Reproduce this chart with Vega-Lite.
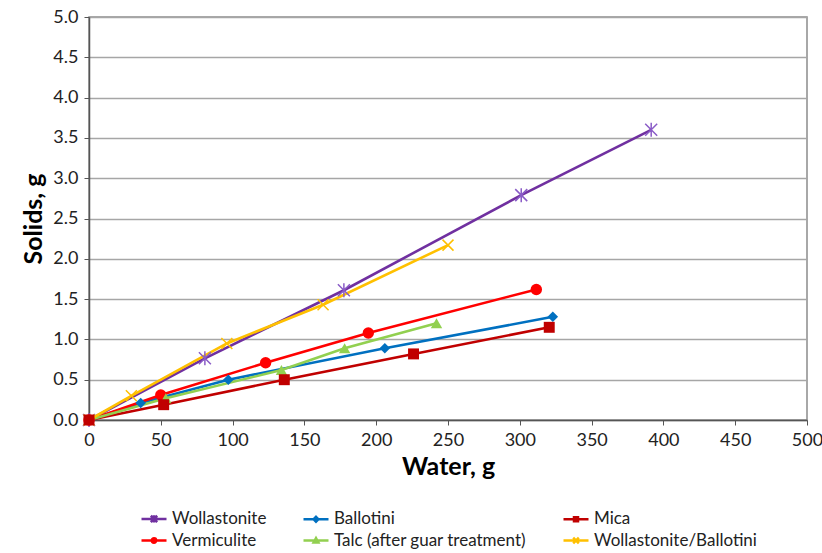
{
  "$schema": "https://vega.github.io/schema/vega-lite/v6.json",
  "autosize": {"type": "none"},
  "width": 718,
  "height": 403,
  "padding": {"left": 89, "top": 17, "right": 15, "bottom": 133},
  "background": "white",
  "config": {
    "font": "Lato",
    "view": {"stroke": "#8c8c8c", "strokeWidth": 1.5},
    "axis": {
      "labelFont": "Lato", "titleFont": "Lato",
      "labelFontSize": 18, "labelColor": "#222", "labelFlush": false,
      "titleFontSize": 25, "titleFontWeight": "bold", "titleColor": "#000",
      "domainColor": "#555", "domainWidth": 1.5, "tickColor": "#555", "tickSize": 5,
      "gridColor": "#a6a6a6", "gridWidth": 1.3
    },
    "legend": {"labelFont": "Lato", "labelFontSize": 17, "labelColor": "#222"}
  },
  "data": {"values": [
    {"series": "Wollastonite", "water": 0, "solids": 0},
    {"series": "Wollastonite", "water": 80.7, "solids": 0.765},
    {"series": "Wollastonite", "water": 177.5, "solids": 1.61},
    {"series": "Wollastonite", "water": 301, "solids": 2.79},
    {"series": "Wollastonite", "water": 391.5, "solids": 3.6},
    {"series": "Ballotini", "water": 0, "solids": 0},
    {"series": "Ballotini", "water": 36, "solids": 0.21},
    {"series": "Ballotini", "water": 97, "solids": 0.5},
    {"series": "Ballotini", "water": 206, "solids": 0.89},
    {"series": "Ballotini", "water": 323, "solids": 1.28},
    {"series": "Mica", "water": 0, "solids": 0},
    {"series": "Mica", "water": 52, "solids": 0.19},
    {"series": "Mica", "water": 136, "solids": 0.5},
    {"series": "Mica", "water": 226, "solids": 0.82},
    {"series": "Mica", "water": 320.5, "solids": 1.15},
    {"series": "Vermiculite", "water": 0, "solids": 0},
    {"series": "Vermiculite", "water": 50, "solids": 0.31},
    {"series": "Vermiculite", "water": 123, "solids": 0.71},
    {"series": "Vermiculite", "water": 194.5, "solids": 1.08},
    {"series": "Vermiculite", "water": 311.5, "solids": 1.62},
    {"series": "Talc (after guar treatment)", "water": 0, "solids": 0},
    {"series": "Talc (after guar treatment)", "water": 53.5, "solids": 0.27},
    {"series": "Talc (after guar treatment)", "water": 134, "solids": 0.62},
    {"series": "Talc (after guar treatment)", "water": 178, "solids": 0.89},
    {"series": "Talc (after guar treatment)", "water": 242, "solids": 1.2},
    {"series": "Wollastonite/Ballotini", "water": 0, "solids": 0},
    {"series": "Wollastonite/Ballotini", "water": 29.5, "solids": 0.3},
    {"series": "Wollastonite/Ballotini", "water": 96, "solids": 0.95},
    {"series": "Wollastonite/Ballotini", "water": 163, "solids": 1.43},
    {"series": "Wollastonite/Ballotini", "water": 250, "solids": 2.17}
  ]},
  "encoding": {
    "x": {"field": "water", "type": "quantitative",
      "scale": {"domain": [0, 500], "nice": false},
      "axis": {"title": "Water, g", "values": [0,50,100,150,200,250,300,350,400,450,500], "grid": false, "labelPadding": 6, "titlePadding": 5}},
    "y": {"field": "solids", "type": "quantitative",
      "scale": {"domain": [0, 5], "nice": false},
      "axis": {"title": "Solids, g", "values": [0,0.5,1,1.5,2,2.5,3,3.5,4,4.5,5], "format": ".1f", "grid": true, "labelPadding": 6, "titlePadding": 6}}
  },
  "layer": [
    {
      "mark": {"type": "line", "strokeWidth": 2.6},
      "encoding": {
        "color": {"field": "series", "type": "nominal",
          "scale": {"domain": ["Wollastonite","Ballotini","Mica","Vermiculite","Talc (after guar treatment)","Wollastonite/Ballotini"],
                    "range": ["#7030A0","#0070C0","#C00000","#FF0000","#92D050","#FFC000"]},
          "legend": {"title": null, "orient": "none", "legendX": 51, "legendY": 492, "direction": "horizontal", "columns": 3, "columnPadding": 31, "rowPadding": 3, "symbolSize": 256, "symbolStrokeWidth": 2.5, "symbolType": "M-1,0L2.125,0", "labelOffset": 13, "labelLimit": 400,
            "encode": {"symbols": {"update": {
              "shape": {"signal": "datum.value === 'Wollastonite' ? 'M-1,0L2.125,0M0.1625,-0.4L0.9625,0.4M0.1625,0.4L0.9625,-0.4M0.5625,-0.45L0.5625,0.45' : datum.value === 'Ballotini' ? 'M-1,0L2.125,0M0.5625,-0.3L0.8625,0L0.5625,0.3L0.2625,0Z' : datum.value === 'Mica' ? 'M-1,0L2.125,0M0.3125,-0.25H0.8125V0.25H0.3125Z' : datum.value === 'Vermiculite' ? 'M-1,0L2.125,0M0.8325,0A0.27,0.27 0 1,1 0.2925,0A0.27,0.27 0 1,1 0.8325,0Z' : datum.value === 'Talc (after guar treatment)' ? 'M-1,0L2.125,0M0.5625,-0.3L0.8625,0.25L0.2625,0.25Z' : 'M-1,0L2.125,0M0.2125,-0.35L0.9125,0.35M0.2125,0.35L0.9125,-0.35'"},
              "fill": {"scale": "color", "field": "value"},
              "stroke": {"scale": "color", "field": "value"}
            }}}
          }
        }
      }
    },
    {
      "transform": [{"filter": {"field": "series", "equal": "Wollastonite"}}],
      "mark": {"type": "point", "filled": false, "size": 100, "strokeWidth": 1.5, "opacity": 1, "color": "#8a5cc7", "shape": "M-1.2,-1.2L1.2,1.2M-1.2,1.2L1.2,-1.2M0,-1.4L0,1.4"}
    },
    {
      "transform": [{"filter": {"field": "series", "equal": "Wollastonite/Ballotini"}}],
      "mark": {"type": "point", "filled": false, "size": 100, "strokeWidth": 1.5, "opacity": 1, "color": "#FFC000", "shape": "M-1.1,-1.1L1.1,1.1M-1.1,1.1L1.1,-1.1"}
    },
    {
      "transform": [{"filter": {"field": "series", "equal": "Ballotini"}}],
      "mark": {"type": "point", "filled": true, "size": 110, "opacity": 1, "color": "#0070C0", "shape": "diamond"}
    },
    {
      "transform": [{"filter": {"field": "series", "equal": "Vermiculite"}}],
      "mark": {"type": "point", "filled": true, "size": 130, "opacity": 1, "color": "#FF0000", "shape": "circle"}
    },
    {
      "transform": [{"filter": {"field": "series", "equal": "Talc (after guar treatment)"}}],
      "mark": {"type": "point", "filled": true, "size": 130, "opacity": 1, "color": "#92D050", "shape": "triangle-up"}
    },
    {
      "transform": [{"filter": {"field": "series", "equal": "Mica"}}],
      "mark": {"type": "point", "filled": true, "size": 120, "opacity": 1, "color": "#C00000", "shape": "square"}
    }
  ]
}
